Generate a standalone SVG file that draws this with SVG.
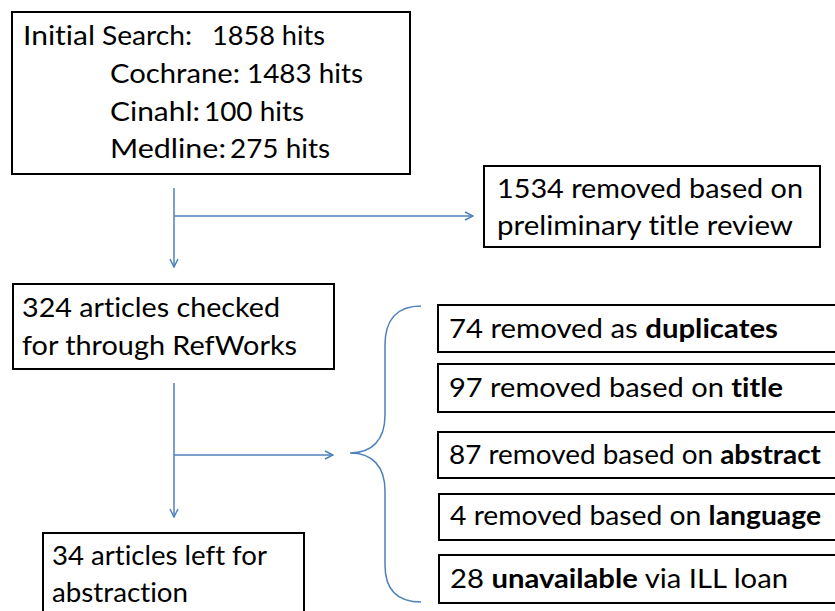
<svg xmlns="http://www.w3.org/2000/svg" width="835" height="611" viewBox="0 0 835 611">
<defs>
<style>
.box{fill:#fff;stroke:#000;stroke-width:2}
.t{font-family:Lato,"Liberation Sans",sans-serif;font-size:27.5px;fill:#000;font-variant-ligatures:none}
.b{font-weight:bold}
.c{fill:none;stroke:#4f81bd;stroke-width:1.5}
</style>
<marker id="arr" viewBox="0 0 10 10" refX="9" refY="5" markerWidth="10" markerHeight="10" orient="auto" markerUnits="userSpaceOnUse">
<path d="M1,1 L9,5 L1,9" fill="none" stroke="#4f81bd" stroke-width="1.5"/>
</marker>
</defs>
<rect width="835" height="611" fill="#fff"/>
<g id="connectors">
<line class="c" x1="174" y1="188" x2="174" y2="267" marker-end="url(#arr)"/>
<line class="c" x1="174" y1="216" x2="473" y2="216" marker-end="url(#arr)"/>
<line class="c" x1="174" y1="383" x2="174" y2="517" marker-end="url(#arr)"/>
<line class="c" x1="174" y1="455" x2="333" y2="455" marker-end="url(#arr)"/>
<path class="c" d="M421,306 C397,306 385,320 385,345 L385,415 C385,440 372,453 350,453 C372,453 385,466 385,491 L385,565 C385,590 397,602 421,602"/>
</g>
<g id="initial">
<rect class="box" x="12" y="12" width="398" height="162"/>
<text class="t" x="23" y="45" textLength="72" lengthAdjust="spacingAndGlyphs">Initial</text>
<text class="t" x="102" y="45" textLength="90" lengthAdjust="spacingAndGlyphs">Search:</text>
<text class="t" x="212" y="45" textLength="113" lengthAdjust="spacingAndGlyphs">1858 hits</text>
<text class="t" x="110" y="83" textLength="130" lengthAdjust="spacingAndGlyphs">Cochrane:</text>
<text class="t" x="247" y="83" textLength="116" lengthAdjust="spacingAndGlyphs">1483 hits</text>
<text class="t" x="110" y="121" textLength="90" lengthAdjust="spacingAndGlyphs">Cinahl:</text>
<text class="t" x="204" y="121" textLength="100" lengthAdjust="spacingAndGlyphs">100 hits</text>
<text class="t" x="110" y="158" textLength="116" lengthAdjust="spacingAndGlyphs">Medline:</text>
<text class="t" x="230" y="158" textLength="100" lengthAdjust="spacingAndGlyphs">275 hits</text>
</g>
<g id="removed1534">
<rect class="box" x="484" y="166" width="336" height="81"/>
<text class="t" x="497" y="198" textLength="306" lengthAdjust="spacingAndGlyphs">1534 removed based on</text>
<text class="t" x="497" y="235" textLength="296" lengthAdjust="spacingAndGlyphs">preliminary title review</text>
</g>
<g id="checked324">
<rect class="box" x="13" y="284" width="321" height="85"/>
<text class="t" x="22" y="317" textLength="258" lengthAdjust="spacingAndGlyphs">324 articles checked</text>
<text class="t" x="22" y="355" textLength="275" lengthAdjust="spacingAndGlyphs">for through RefWorks</text>
</g>
<g id="left34">
<rect class="box" x="43" y="533" width="261" height="90"/>
<text class="t" x="52" y="565" textLength="215" lengthAdjust="spacingAndGlyphs">34 articles left for</text>
<text class="t" x="52" y="602" textLength="136" lengthAdjust="spacingAndGlyphs">abstraction</text>
</g>
<g id="duplicates">
<rect class="box" x="438" y="305" width="410" height="47"/>
<text class="t" x="449" y="338" textLength="329" lengthAdjust="spacingAndGlyphs">74 removed as <tspan class="b">duplicates</tspan></text>
</g>
<g id="title">
<rect class="box" x="438" y="364" width="410" height="48"/>
<text class="t" x="449" y="397" textLength="334" lengthAdjust="spacingAndGlyphs">97 removed based on <tspan class="b">title</tspan></text>
</g>
<g id="abstract">
<rect class="box" x="438" y="432" width="410" height="46"/>
<text class="t" x="449" y="464" textLength="372" lengthAdjust="spacingAndGlyphs">87 removed based on <tspan class="b">abstract</tspan></text>
</g>
<g id="language">
<rect class="box" x="439" y="494" width="410" height="46"/>
<text class="t" x="450" y="525" textLength="371" lengthAdjust="spacingAndGlyphs">4 removed based on <tspan class="b">language</tspan></text>
</g>
<g id="unavailable">
<rect class="box" x="439" y="555" width="410" height="48"/>
<text class="t" x="450" y="588" textLength="338" lengthAdjust="spacingAndGlyphs">28 <tspan class="b">unavailable</tspan> via ILL loan</text>
</g>
</svg>
